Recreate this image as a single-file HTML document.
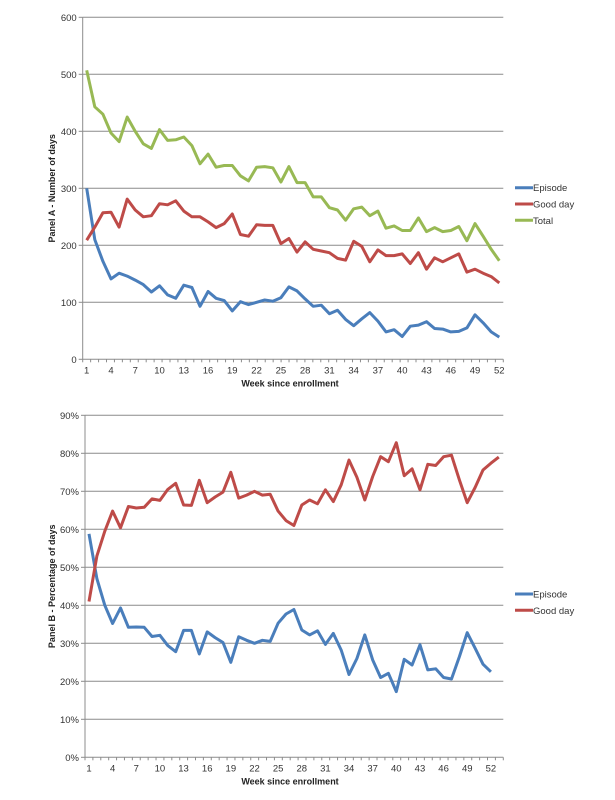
<!DOCTYPE html>
<html><head><meta charset="utf-8"><style>
body{margin:0;background:#fff;}
svg{display:block;font-family:"Liberation Sans",sans-serif;}
</style></head><body>
<svg id="chart" width="615" height="800"></svg>
<script>
const weeksA = Array.from({length:52},(_,i)=>i+1);
const tickLabels = [1,4,7,10,13,16,19,22,25,28,31,34,37,40,43,46,49,52];
const yTicksA = [0,100,200,300,400,500,600];
const yTicksB = [0,10,20,30,40,50,60,70,80,90];
const episodeA = [300,210,172,141,151,146,139,131,118,129,113,107,130,126,93,119,107,103,85,101,96,100,104,102,108,127,120,106,93,95,80,86,70,59,71,82,67,48,52,40,58,60,66,54,53,48,49,55,78,64,48,39];
const goodA = [209,232,257,258,232,281,262,250,252,273,271,278,260,250,250,241,231,238,255,219,216,236,235,235,203,212,188,206,193,190,187,177,174,207,198,171,192,182,182,185,168,187,158,178,171,178,185,153,158,151,145,134];
const totalA = [507,443,430,397,382,425,400,378,370,403,384,385,390,375,343,360,337,340,340,322,313,337,338,336,311,338,310,310,285,285,266,262,244,264,267,252,260,230,234,226,226,248,224,231,224,226,233,208,238,216,193,173];
const episodeB = [58.8,47,40,35.2,39.3,34.2,34.3,34.2,31.8,32.1,29.4,27.8,33.4,33.4,27.2,33,31.5,30.2,25,31.7,30.8,30,30.8,30.5,35.3,37.7,38.9,33.5,32.2,33.3,29.7,32.6,28.2,21.8,26,32.2,25.6,21,22.1,17.3,25.8,24.3,29.6,23,23.3,21,20.6,26.5,32.8,28.7,24.5,22.5];
const goodB = [41,53,59.5,64.8,60.4,66,65.6,65.8,68,67.6,70.5,72.1,66.4,66.3,72.9,67,68.5,69.8,75,68.2,69,70,69,69.2,64.8,62.3,61,66.4,67.7,66.7,70.4,67.3,71.7,78.2,73.7,67.7,73.9,79.1,77.8,82.8,74.1,75.9,70.4,77.1,76.8,79.1,79.5,73,67,71,75.6,77.4,79];

const NS="http://www.w3.org/2000/svg";
const svg=document.getElementById('chart');
function mk(tag,attrs,parent){const e=document.createElementNS(NS,tag);for(const k in attrs)e.setAttribute(k,attrs[k]);(parent||svg).appendChild(e);return e;}

function panel(cfg){
  const g=mk('g',{});
  
  
  const xS=w=>cfg.x1+(w-1)*cfg.dx;
  const yS=v=>cfg.y0-(v-cfg.vmin)/(cfg.vmax-cfg.vmin)*(cfg.y0-cfg.yTop);
  cfg.yTicks.forEach(v=>{
    const y=yS(v);
    if(v>0){const l=mk('line',{x1:cfg.axX,x2:cfg.right,y1:y,y2:y,stroke:'#8c8c8c','stroke-width':1},g);
      
      }
    mk('line',{x1:cfg.axX-4,x2:cfg.axX,y1:y,y2:y,stroke:'#8c8c8c'},g);
    const t=mk('text',{x:cfg.axX-6,y:y+3.5,'font-size':9.5,'text-anchor':'end',fill:'#333'},g);
    t.textContent=v+cfg.suffix;
    
    
  });
  const ax=mk('line',{x1:cfg.axX,x2:cfg.axX,y1:cfg.yTop,y2:cfg.y0,stroke:'#8c8c8c'},g);
  
  
  const bx=mk('line',{x1:cfg.axX,x2:cfg.right,y1:cfg.y0,y2:cfg.y0,stroke:'#8c8c8c'},g);
  
  
  for(let i=0;i<=53;i++){const x=cfg.axX+i*(cfg.right-cfg.axX)/53;mk('line',{x1:x,x2:x,y1:cfg.y0,y2:cfg.y0+3,stroke:'#8c8c8c'},g);}
  tickLabels.forEach(w=>{
    const t=mk('text',{x:xS(w),y:cfg.y0+14,'font-size':9.5,'text-anchor':'middle',fill:'#333'},g);
    t.textContent=w;
    
    
  });
  const xt=mk('text',{x:290,y:cfg.y0+27,'font-size':9,'font-weight':'bold','text-anchor':'middle',fill:'#222'},g);
  xt.textContent='Week since enrollment';
  
  
  const yt=mk('text',{x:0,y:0,'font-size':9,'font-weight':'bold','text-anchor':'middle',fill:'#222',transform:`translate(${cfg.titleX},${(cfg.yTop+cfg.y0)/2}) rotate(-90)`},g);
  yt.textContent=cfg.title;
  
  
  cfg.series.forEach((s,si)=>{
    const pts=s.data.map((v,i)=>xS(i+1).toFixed(1)+','+yS(v).toFixed(1)).join(' ');
    const p=mk('polyline',{points:pts,fill:'none',stroke:s.color,'stroke-width':3,'stroke-linejoin':'round'},g);
    
    
    const ly=cfg.legY+si*16.3;
    const ll=mk('line',{x1:515,x2:533,y1:ly,y2:ly,stroke:s.color,'stroke-width':3},g);
    
    
    const lt=mk('text',{x:533,y:ly+3.5,'font-size':9.5,fill:'#333'},g);
    lt.textContent=s.label;
    
    
  });
}
panel({name:'panel-a',axX:82.7,right:503.3,x1:86.7,dx:8.09,y0:359.3,yTop:17.3,vmin:0,vmax:600,yTicks:yTicksA,suffix:'',
  title:'Panel A - Number of days',titleX:55,legY:187.7,
  series:[{key:'episode',label:'Episode',color:'#4a7ebb',data:episodeA},{key:'good-day',label:'Good day',color:'#be4b48',data:goodA},{key:'total',label:'Total',color:'#98b954',data:totalA}]});
panel({name:'panel-b',axX:85,right:503.3,x1:89,dx:7.88,y0:757.3,yTop:415.3,vmin:0,vmax:90,yTicks:yTicksB,suffix:'%',
  title:'Panel B - Percentage of days',titleX:55,legY:594,
  series:[{key:'episode',label:'Episode',color:'#4a7ebb',data:episodeB},{key:'good-day',label:'Good day',color:'#be4b48',data:goodB}]});
</script>
</body></html>
